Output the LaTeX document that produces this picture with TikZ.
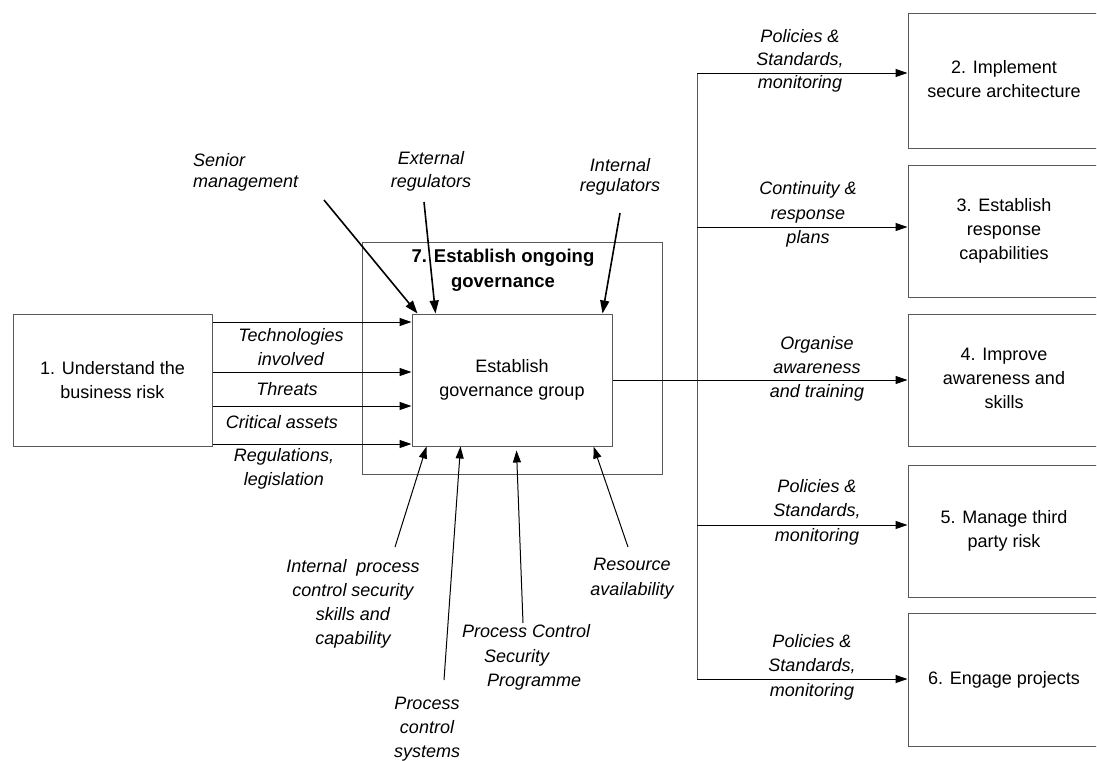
\documentclass[tikz,border=0pt]{standalone}
\usepackage{fontspec}
\setmainfont{Liberation Sans}
\usetikzlibrary{arrows.meta}
\begin{document}
\begin{tikzpicture}[x=1pt,y=-1pt,
  box/.style={draw=black!65, line width=1pt, rectangle, inner sep=0pt, align=center, font=\fontsize{18}{24}\selectfont},
  rbox/.style={draw=black!65, line width=1pt, rectangle, inner sep=0pt, minimum width=230pt, font=\fontsize{18}{24}\selectfont},
  lbl/.style={inner sep=0pt, align=center, font=\fontsize{18}{24}\selectfont\itshape},
  ttl/.style={inner sep=0pt, align=center, font=\fontsize{18.5}{25}\selectfont\bfseries},
  arr/.style={draw=black, line width=1pt, -{Triangle[length=12pt,width=8pt]}},
  harr/.style={arr, line width=1.6pt, -{Triangle[length=13pt,width=9pt]}},
  conn/.style={draw=black!65, line width=1pt},
  ]
\useasboundingbox (0,0) rectangle (1097,760);
\clip (0,0) rectangle (1096,760);
\fill[white] (0,0) rectangle (1097,760);
\newcommand{\rtext}[1]{\begin{tabular}{@{}c@{}}#1\end{tabular}\hspace*{38pt}}

% main boxes
\node[box, minimum width=199pt, minimum height=132pt] (b1) at (112.5,380) {1. Understand the\\business risk};
\node[box, minimum width=300pt, minimum height=232pt] (g7) at (512,358) {};
\node[ttl] (t7) at (503,270.5) {7. Establish ongoing\\governance};
\node[box, minimum width=200pt, minimum height=132pt] (g) at (512,380) {Establish\\governance group};

% right boxes (right edge runs off the picture)
\node[rbox, minimum height=134pt] (b2) at (1023,81) {\rtext{2. Implement\\secure architecture}};
\node[rbox, minimum height=132pt] (b3) at (1023,231) {\rtext{3. Establish\\response\\capabilities}};
\node[rbox, minimum height=132pt] (b4) at (1023,380) {\rtext{4. Improve\\awareness and\\skills}};
\node[rbox, minimum height=132pt] (b5) at (1023,531) {\rtext{5. Manage third\\party risk}};
\node[rbox, minimum height=133pt] (b6) at (1023,679.5) {\rtext{6. Engage projects}};

% inputs from box 1
\coordinate (y1) at (0,322);
\coordinate (y2) at (0,372);
\coordinate (y3) at (0,406);
\coordinate (y4) at (0,444);
\draw[arr] (b1.east |- y1) -- (g.west |- y1);
\draw[arr] (b1.east |- y2) -- (g.west |- y2);
\draw[arr] (b1.east |- y3) -- (g.west |- y3);
\draw[arr] (b1.east |- y4) -- (g.west |- y4);
\node[lbl] (ltech) at (291,347.5) {Technologies\\involved};
\node[lbl] (lthr) at (287,389) {Threats};
\node[lbl] (lcrit) at (282,422) {Critical assets};
\node[lbl] (lreg) at (284,468.5) {Regulations,\\legislation};

% top inputs
\coordinate (sm) at (324,200);
\coordinate (er) at (424,202);
\coordinate (ir) at (620,213);
\draw[harr] (sm) -- ([xshift=6pt]g.north west);
\draw[harr] (er) -- ([xshift=24pt]g.north west);
\draw[harr] (ir) -- ([xshift=-10pt]g.north east);
\node[lbl, align=left, anchor=west, font=\fontsize{18}{21.5}\selectfont\itshape] (lsm) at (193,172.5) {Senior\\management};
\node[lbl, font=\fontsize{18}{23}\selectfont\itshape] (ler) at (431,171.5) {External\\regulators};
\node[lbl, font=\fontsize{18}{20}\selectfont\itshape] (lir) at (620,177) {Internal\\regulators};

% bottom inputs
\coordinate (ip) at (395,547);
\coordinate (pc) at (444,680);
\coordinate (pp) at (523,623);
\coordinate (ra) at (628,547);
\draw[arr] (ip) -- ([xshift=15pt]g.south west);
\draw[arr] (pc) -- ([xshift=49pt]g.south west);
\draw[arr] (pp) -- ([xshift=105pt,yshift=-4pt]g.south west);
\draw[arr] (ra) -- ([xshift=-19pt]g.south east);
\node[lbl] (lip) at (353,604) {Internal\ \ process\\control security\\skills and\\capability};
\node[lbl] (lpc) at (427,729) {Process\\control\\systems};
\node[lbl, align=left, anchor=west, font=\fontsize{18}{24.5}\selectfont\itshape] (lpp) at (462,657.5) {Process Control\\\hspace*{22pt}Security\\\hspace*{25pt}Programme};
\node[lbl, font=\fontsize{18}{25}\selectfont\itshape] (lra) at (632,578.5) {Resource\\availability};

% outputs
\coordinate (v1) at (697,73);
\coordinate (v3) at (697,227);
\coordinate (v5) at (697,525);
\coordinate (v6) at (697,679);
\draw[conn] (v1) -- (v6);
\draw[arr] (v1) -- (b2.west |- v1);
\draw[arr] (v3) -- (b3.west |- v3);
\draw[arr] (g.east) -- (b4.west);
\draw[arr] (v5) -- (b5.west |- v5);
\draw[arr] (v6) -- (b6.west |- v6);
\node[lbl, font=\fontsize{18}{23}\selectfont\itshape] (l2) at (800,61) {Policies \&\\Standards,\\monitoring};
\node[lbl, font=\fontsize{18}{24.5}\selectfont\itshape] (l3) at (808,214.5) {Continuity \&\\response\\plans};
\node[lbl] (l4) at (817,369) {Organise\\awareness\\and training};
\node[lbl, font=\fontsize{18}{24.5}\selectfont\itshape] (l5) at (817,512) {Policies \&\\Standards,\\monitoring};
\node[lbl, font=\fontsize{18}{24.5}\selectfont\itshape] (l6) at (812,667) {Policies \&\\Standards,\\monitoring};
\end{tikzpicture}
\end{document}
